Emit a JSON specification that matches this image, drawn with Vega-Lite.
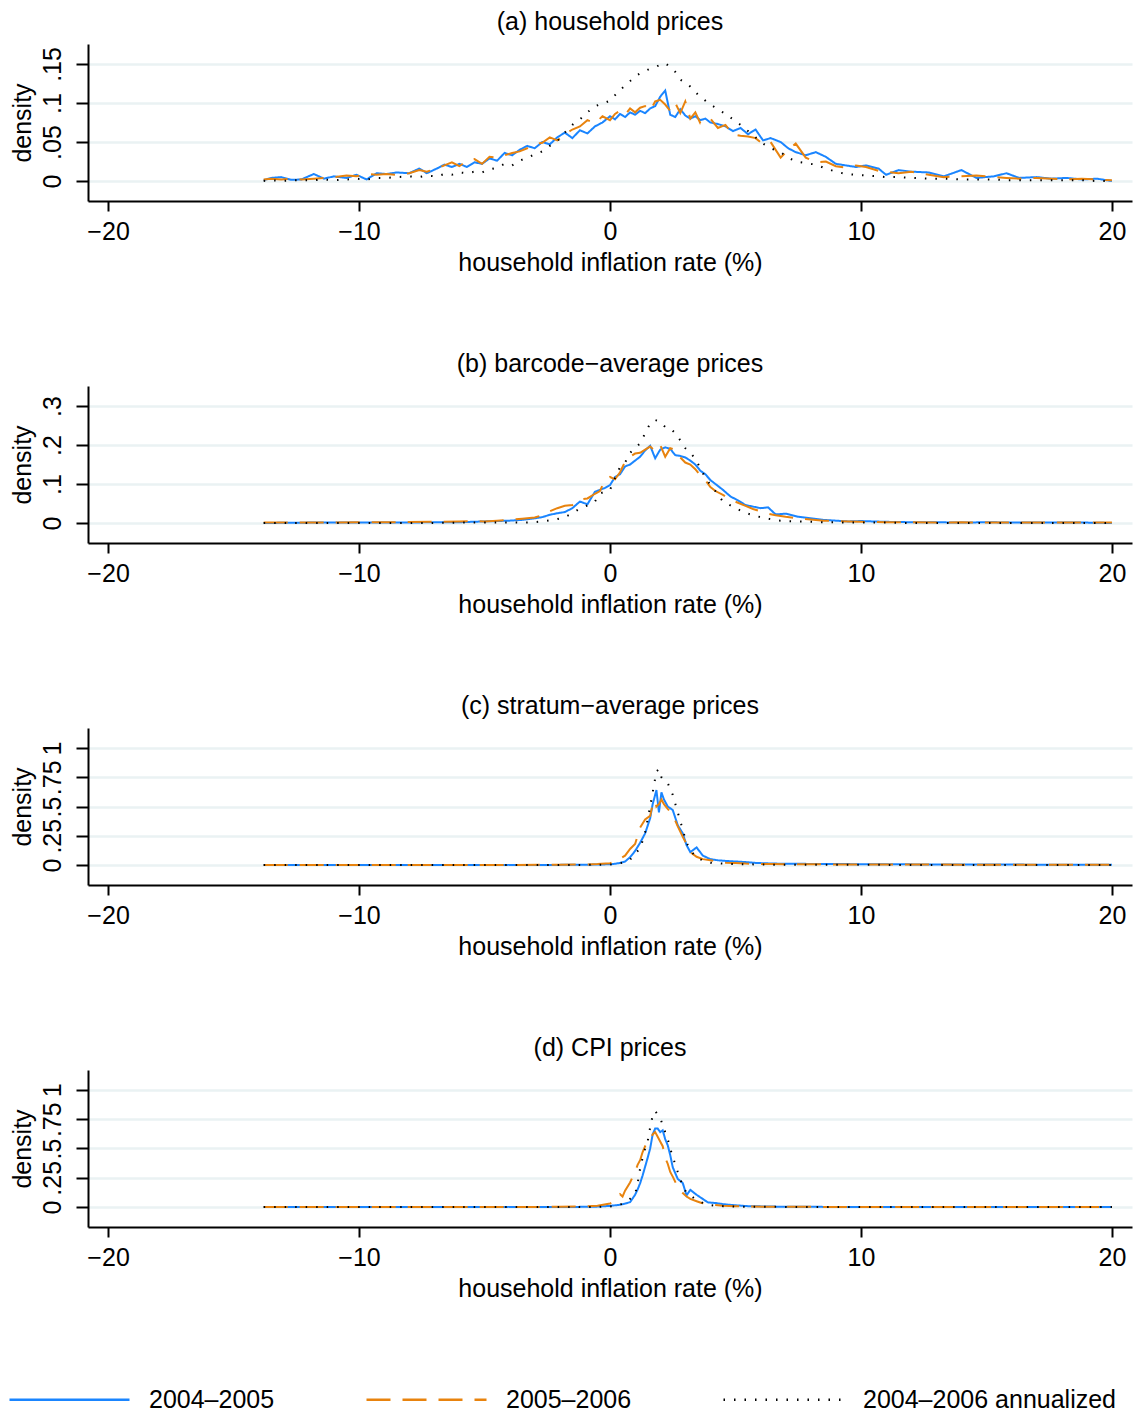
{
"$schema": "https://vega.github.io/schema/vega-lite/v6.json",
"background": "white",
"padding": {"left": 8, "top": 10, "right": 4, "bottom": 4},
"config": {
  "font": "Liberation Sans",
  "view": {"stroke": null},
  "axis": {"labelFont": "Liberation Sans", "titleFont": "Liberation Sans", "labelFontSize": 25, "titleFontSize": 25, "titleFontWeight": "normal", "labelColor": "black", "titleColor": "black", "domainColor": "black", "tickColor": "black", "domainWidth": 2, "tickWidth": 2},
  "title": {"font": "Liberation Sans", "fontSize": 25, "fontWeight": "normal", "offset": 9, "color": "black"},
  "legend": {"orient": "none", "legendX": -80, "legendY": 1294, "direction": "horizontal", "symbolType": "stroke", "symbolSize": 14400, "symbolStrokeWidth": 2.5, "labelFont": "Liberation Sans", "labelFontSize": 25, "labelColor": "black", "labelOffset": 18, "columnPadding": 86, "padding": 0, "labelLimit": 400}
},
"datasets": {"d": [
{"p":"a","x":-13.8,"b":0.001,"o":0.002,"k":0},
{"p":"a","x":-13.5,"b":0.004,"o":0.003,"k":0.001},
{"p":"a","x":-13.1,"b":0.005,"o":0.002,"k":0},
{"p":"a","x":-12.7,"b":0.0015,"o":0.003,"k":0.001},
{"p":"a","x":-12.3,"b":0.002,"o":0.002,"k":0.001},
{"p":"a","x":-11.8,"b":0.009,"o":0.003,"k":0.001},
{"p":"a","x":-11.4,"b":0.003,"o":0.004,"k":0.002},
{"p":"a","x":-11.0,"b":0.006,"o":0.005,"k":0.001},
{"p":"a","x":-10.5,"b":0.004,"o":0.007,"k":0.002},
{"p":"a","x":-10.1,"b":0.008,"o":0.006,"k":0.003},
{"p":"a","x":-9.7,"b":0.002,"o":0.009,"k":0.002},
{"p":"a","x":-9.3,"b":0.010,"o":0.008,"k":0.004},
{"p":"a","x":-8.9,"b":0.009,"o":0.009,"k":0.004},
{"p":"a","x":-8.5,"b":0.011,"o":0.008,"k":0.005},
{"p":"a","x":-8.0,"b":0.010,"o":0.010,"k":0.006},
{"p":"a","x":-7.6,"b":0.016,"o":0.014,"k":0.005},
{"p":"a","x":-7.3,"b":0.010,"o":0.012,"k":0.007},
{"p":"a","x":-6.9,"b":0.016,"o":0.016,"k":0.006},
{"p":"a","x":-6.6,"b":0.021,"o":0.020,"k":0.009},
{"p":"a","x":-6.3,"b":0.018,"o":0.024,"k":0.008},
{"p":"a","x":-6.0,"b":0.022,"o":0.019,"k":0.011},
{"p":"a","x":-5.7,"b":0.018,"o":0.026,"k":0.010},
{"p":"a","x":-5.4,"b":0.024,"o":0.028,"k":0.012},
{"p":"a","x":-5.1,"b":0.022,"o":0.022,"k":0.011},
{"p":"a","x":-4.8,"b":0.029,"o":0.031,"k":0.015},
{"p":"a","x":-4.5,"b":0.026,"o":0.030,"k":0.017},
{"p":"a","x":-4.2,"b":0.036,"o":0.033,"k":0.022},
{"p":"a","x":-3.9,"b":0.033,"o":0.036,"k":0.020},
{"p":"a","x":-3.6,"b":0.040,"o":0.038,"k":0.026},
{"p":"a","x":-3.3,"b":0.045,"o":0.042,"k":0.030},
{"p":"a","x":-3.0,"b":0.042,"o":0.047,"k":0.034},
{"p":"a","x":-2.7,"b":0.050,"o":0.049,"k":0.038},
{"p":"a","x":-2.4,"b":0.047,"o":0.056,"k":0.045},
{"p":"a","x":-2.1,"b":0.056,"o":0.052,"k":0.051},
{"p":"a","x":-1.8,"b":0.062,"o":0.060,"k":0.062},
{"p":"a","x":-1.5,"b":0.055,"o":0.066,"k":0.072},
{"p":"a","x":-1.2,"b":0.065,"o":0.070,"k":0.079},
{"p":"a","x":-0.9,"b":0.061,"o":0.078,"k":0.088},
{"p":"a","x":-0.6,"b":0.070,"o":0.074,"k":0.096},
{"p":"a","x":-0.3,"b":0.075,"o":0.083,"k":0.099},
{"p":"a","x":0.0,"b":0.083,"o":0.078,"k":0.103},
{"p":"a","x":0.2,"b":0.079,"o":0.086,"k":0.110},
{"p":"a","x":0.4,"b":0.086,"o":0.090,"k":0.117},
{"p":"a","x":0.6,"b":0.082,"o":0.085,"k":0.122},
{"p":"a","x":0.8,"b":0.088,"o":0.093,"k":0.128},
{"p":"a","x":1.0,"b":0.085,"o":0.088,"k":0.134},
{"p":"a","x":1.2,"b":0.090,"o":0.094,"k":0.138},
{"p":"a","x":1.4,"b":0.087,"o":0.096,"k":0.141},
{"p":"a","x":1.6,"b":0.093,"o":0.090,"k":0.144},
{"p":"a","x":1.8,"b":0.096,"o":0.102,"k":0.146},
{"p":"a","x":2.0,"b":0.108,"o":0.104,"k":0.149},
{"p":"a","x":2.2,"b":0.116,"o":0.098,"k":0.151},
{"p":"a","x":2.4,"b":0.085,"o":0.090,"k":0.146},
{"p":"a","x":2.6,"b":0.082,"o":0.100,"k":0.140},
{"p":"a","x":2.8,"b":0.092,"o":0.087,"k":0.130},
{"p":"a","x":3.0,"b":0.084,"o":0.102,"k":0.126},
{"p":"a","x":3.2,"b":0.080,"o":0.080,"k":0.121},
{"p":"a","x":3.4,"b":0.083,"o":0.088,"k":0.114},
{"p":"a","x":3.6,"b":0.078,"o":0.074,"k":0.108},
{"p":"a","x":3.8,"b":0.080,"o":0.076,"k":0.103},
{"p":"a","x":4.0,"b":0.075,"o":0.080,"k":0.098},
{"p":"a","x":4.3,"b":0.073,"o":0.068,"k":0.092},
{"p":"a","x":4.6,"b":0.070,"o":0.072,"k":0.086},
{"p":"a","x":4.9,"b":0.064,"o":0.060,"k":0.079},
{"p":"a","x":5.2,"b":0.068,"o":0.058,"k":0.072},
{"p":"a","x":5.5,"b":0.060,"o":0.057,"k":0.064},
{"p":"a","x":5.8,"b":0.066,"o":0.055,"k":0.056},
{"p":"a","x":6.1,"b":0.052,"o":0.047,"k":0.048},
{"p":"a","x":6.4,"b":0.055,"o":0.050,"k":0.042},
{"p":"a","x":6.8,"b":0.050,"o":0.030,"k":0.037},
{"p":"a","x":7.1,"b":0.042,"o":0.040,"k":0.030},
{"p":"a","x":7.4,"b":0.037,"o":0.048,"k":0.025},
{"p":"a","x":7.8,"b":0.033,"o":0.030,"k":0.023},
{"p":"a","x":8.2,"b":0.037,"o":0.024,"k":0.021},
{"p":"a","x":8.6,"b":0.031,"o":0.025,"k":0.016},
{"p":"a","x":9.0,"b":0.022,"o":0.019,"k":0.012},
{"p":"a","x":9.4,"b":0.020,"o":0.017,"k":0.009},
{"p":"a","x":9.8,"b":0.018,"o":0.020,"k":0.008},
{"p":"a","x":10.2,"b":0.020,"o":0.018,"k":0.007},
{"p":"a","x":10.7,"b":0.016,"o":0.013,"k":0.006},
{"p":"a","x":11.0,"b":0.008,"o":0.012,"k":0.005},
{"p":"a","x":11.5,"b":0.014,"o":0.010,"k":0.005},
{"p":"a","x":12.0,"b":0.012,"o":0.012,"k":0.004},
{"p":"a","x":12.7,"b":0.011,"o":0.008,"k":0.003},
{"p":"a","x":13.3,"b":0.006,"o":0.005,"k":0.003},
{"p":"a","x":14.0,"b":0.014,"o":0.006,"k":0.002},
{"p":"a","x":14.6,"b":0.004,"o":0.007,"k":0.002},
{"p":"a","x":15.3,"b":0.006,"o":0.005,"k":0.002},
{"p":"a","x":15.8,"b":0.010,"o":0.004,"k":0.001},
{"p":"a","x":16.3,"b":0.004,"o":0.003,"k":0.001},
{"p":"a","x":17.0,"b":0.005,"o":0.004,"k":0.001},
{"p":"a","x":17.6,"b":0.003,"o":0.003,"k":0.001},
{"p":"a","x":18.2,"b":0.004,"o":0.002,"k":0.001},
{"p":"a","x":18.8,"b":0.002,"o":0.003,"k":0.001},
{"p":"a","x":19.4,"b":0.003,"o":0.002,"k":0},
{"p":"a","x":20.0,"b":0,"o":0.001,"k":0},

{"p":"b","x":-13.8,"b":0,"o":0.001,"k":0},
{"p":"b","x":-12,"b":0.001,"o":0.001,"k":0},
{"p":"b","x":-10,"b":0.001,"o":0.002,"k":0},
{"p":"b","x":-8.4,"b":0.001,"o":0.002,"k":0},
{"p":"b","x":-7,"b":0.002,"o":0.003,"k":0},
{"p":"b","x":-6,"b":0.002,"o":0.004,"k":0.001},
{"p":"b","x":-5.5,"b":0.003,"o":0.005,"k":0.001},
{"p":"b","x":-5.0,"b":0.004,"o":0.004,"k":0.001},
{"p":"b","x":-4.5,"b":0.005,"o":0.006,"k":0.001},
{"p":"b","x":-4.0,"b":0.006,"o":0.008,"k":0.001},
{"p":"b","x":-3.5,"b":0.008,"o":0.011,"k":0.001},
{"p":"b","x":-3.0,"b":0.012,"o":0.014,"k":0.002},
{"p":"b","x":-2.7,"b":0.015,"o":0.020,"k":0.004},
{"p":"b","x":-2.4,"b":0.021,"o":0.030,"k":0.007},
{"p":"b","x":-2.1,"b":0.025,"o":0.038,"k":0.010},
{"p":"b","x":-1.8,"b":0.028,"o":0.044,"k":0.015},
{"p":"b","x":-1.5,"b":0.038,"o":0.046,"k":0.025},
{"p":"b","x":-1.2,"b":0.055,"o":0.060,"k":0.037},
{"p":"b","x":-0.9,"b":0.048,"o":0.063,"k":0.045},
{"p":"b","x":-0.6,"b":0.080,"o":0.075,"k":0.055},
{"p":"b","x":-0.4,"b":0.085,"o":0.082,"k":0.076},
{"p":"b","x":-0.2,"b":0.090,"o":0.110,"k":0.080},
{"p":"b","x":0.0,"b":0.097,"o":0.118,"k":0.085},
{"p":"b","x":0.2,"b":0.118,"o":0.112,"k":0.115},
{"p":"b","x":0.4,"b":0.125,"o":0.130,"k":0.144},
{"p":"b","x":0.6,"b":0.145,"o":0.157,"k":0.155},
{"p":"b","x":0.8,"b":0.150,"o":0.170,"k":0.180},
{"p":"b","x":1.0,"b":0.160,"o":0.178,"k":0.192},
{"p":"b","x":1.2,"b":0.170,"o":0.180,"k":0.204},
{"p":"b","x":1.4,"b":0.186,"o":0.188,"k":0.230},
{"p":"b","x":1.6,"b":0.198,"o":0.196,"k":0.255},
{"p":"b","x":1.8,"b":0.166,"o":0.185,"k":0.264},
{"p":"b","x":2.0,"b":0.188,"o":0.200,"k":0.260},
{"p":"b","x":2.2,"b":0.194,"o":0.170,"k":0.246},
{"p":"b","x":2.4,"b":0.190,"o":0.192,"k":0.243},
{"p":"b","x":2.6,"b":0.174,"o":0.188,"k":0.230},
{"p":"b","x":2.8,"b":0.172,"o":0.168,"k":0.212},
{"p":"b","x":3.0,"b":0.168,"o":0.155,"k":0.192},
{"p":"b","x":3.2,"b":0.160,"o":0.150,"k":0.180},
{"p":"b","x":3.4,"b":0.150,"o":0.138,"k":0.165},
{"p":"b","x":3.6,"b":0.134,"o":0.122,"k":0.140},
{"p":"b","x":3.8,"b":0.125,"o":0.110,"k":0.116},
{"p":"b","x":4.0,"b":0.110,"o":0.092,"k":0.098},
{"p":"b","x":4.2,"b":0.100,"o":0.082,"k":0.082},
{"p":"b","x":4.5,"b":0.085,"o":0.072,"k":0.055},
{"p":"b","x":4.8,"b":0.068,"o":0.060,"k":0.045},
{"p":"b","x":5.1,"b":0.058,"o":0.052,"k":0.035},
{"p":"b","x":5.4,"b":0.046,"o":0.044,"k":0.026},
{"p":"b","x":5.7,"b":0.042,"o":0.036,"k":0.020},
{"p":"b","x":6.0,"b":0.038,"o":0.030,"k":0.015},
{"p":"b","x":6.3,"b":0.040,"o":0.024,"k":0.011},
{"p":"b","x":6.6,"b":0.022,"o":0.020,"k":0.007},
{"p":"b","x":7.0,"b":0.024,"o":0.016,"k":0.005},
{"p":"b","x":7.5,"b":0.016,"o":0.012,"k":0.004},
{"p":"b","x":8.0,"b":0.012,"o":0.009,"k":0.003},
{"p":"b","x":8.5,"b":0.008,"o":0.006,"k":0.002},
{"p":"b","x":9.0,"b":0.006,"o":0.005,"k":0.002},
{"p":"b","x":9.5,"b":0.004,"o":0.004,"k":0.001},
{"p":"b","x":10.0,"b":0.005,"o":0.003,"k":0.001},
{"p":"b","x":11,"b":0.003,"o":0.002,"k":0.001},
{"p":"b","x":12,"b":0.002,"o":0.002,"k":0},
{"p":"b","x":13,"b":0.002,"o":0.001,"k":0},
{"p":"b","x":14,"b":0.001,"o":0.002,"k":0},
{"p":"b","x":15,"b":0.002,"o":0.001,"k":0},
{"p":"b","x":16,"b":0.001,"o":0.001,"k":0},
{"p":"b","x":17,"b":0.001,"o":0.001,"k":0},
{"p":"b","x":18,"b":0.001,"o":0.001,"k":0},
{"p":"b","x":19,"b":0.001,"o":0.001,"k":0},
{"p":"b","x":20,"b":0,"o":0.001,"k":0},

{"p":"c","x":-13.8,"b":0,"o":0,"k":0},
{"p":"c","x":-10,"b":0,"o":0,"k":0},
{"p":"c","x":-5,"b":0,"o":0,"k":0},
{"p":"c","x":-2,"b":0.001,"o":0.002,"k":0},
{"p":"c","x":-1,"b":0.002,"o":0.004,"k":0.001},
{"p":"c","x":-0.5,"b":0.004,"o":0.008,"k":0.002},
{"p":"c","x":0.0,"b":0.006,"o":0.015,"k":0.004},
{"p":"c","x":0.2,"b":0.010,"o":0.030,"k":0.008},
{"p":"c","x":0.4,"b":0.018,"o":0.055,"k":0.015},
{"p":"c","x":0.6,"b":0.030,"o":0.080,"k":0.025},
{"p":"c","x":0.8,"b":0.066,"o":0.137,"k":0.045},
{"p":"c","x":1.0,"b":0.120,"o":0.180,"k":0.100},
{"p":"c","x":1.2,"b":0.190,"o":0.320,"k":0.137},
{"p":"c","x":1.4,"b":0.270,"o":0.390,"k":0.280},
{"p":"c","x":1.6,"b":0.400,"o":0.420,"k":0.500},
{"p":"c","x":1.7,"b":0.520,"o":0.520,"k":0.620},
{"p":"c","x":1.8,"b":0.600,"o":0.550,"k":0.740},
{"p":"c","x":1.85,"b":0.640,"o":0.500,"k":0.800},
{"p":"c","x":1.95,"b":0.450,"o":0.520,"k":0.820},
{"p":"c","x":2.05,"b":0.620,"o":0.560,"k":0.750},
{"p":"c","x":2.15,"b":0.560,"o":0.520,"k":0.720},
{"p":"c","x":2.3,"b":0.500,"o":0.480,"k":0.700},
{"p":"c","x":2.5,"b":0.470,"o":0.430,"k":0.600},
{"p":"c","x":2.7,"b":0.340,"o":0.330,"k":0.450},
{"p":"c","x":2.9,"b":0.270,"o":0.240,"k":0.300},
{"p":"c","x":3.05,"b":0.170,"o":0.180,"k":0.190},
{"p":"c","x":3.2,"b":0.110,"o":0.110,"k":0.130},
{"p":"c","x":3.45,"b":0.150,"o":0.070,"k":0.060},
{"p":"c","x":3.7,"b":0.080,"o":0.050,"k":0.040},
{"p":"c","x":4.0,"b":0.050,"o":0.040,"k":0.020},
{"p":"c","x":4.3,"b":0.040,"o":0.030,"k":0.015},
{"p":"c","x":4.6,"b":0.035,"o":0.020,"k":0.010},
{"p":"c","x":5.0,"b":0.030,"o":0.018,"k":0.008},
{"p":"c","x":5.4,"b":0.025,"o":0.012,"k":0.006},
{"p":"c","x":5.8,"b":0.018,"o":0.010,"k":0.005},
{"p":"c","x":6.5,"b":0.012,"o":0.008,"k":0.003},
{"p":"c","x":7.5,"b":0.010,"o":0.006,"k":0.002},
{"p":"c","x":9,"b":0.008,"o":0.005,"k":0.002},
{"p":"c","x":11,"b":0.006,"o":0.004,"k":0.001},
{"p":"c","x":14,"b":0.004,"o":0.003,"k":0.001},
{"p":"c","x":17,"b":0.003,"o":0.002,"k":0.001},
{"p":"c","x":20,"b":0.002,"o":0.001,"k":0},

{"p":"d","x":-13.8,"b":0,"o":0,"k":0},
{"p":"d","x":-5,"b":0,"o":0,"k":0},
{"p":"d","x":-2,"b":0.001,"o":0.002,"k":0},
{"p":"d","x":-1,"b":0.002,"o":0.006,"k":0.001},
{"p":"d","x":-0.5,"b":0.004,"o":0.012,"k":0.002},
{"p":"d","x":0.0,"b":0.010,"o":0.030,"k":0.005},
{"p":"d","x":0.2,"b":0.015,"o":0.060,"k":0.010},
{"p":"d","x":0.4,"b":0.020,"o":0.110,"k":0.020},
{"p":"d","x":0.5,"b":0.025,"o":0.090,"k":0.030},
{"p":"d","x":0.6,"b":0.030,"o":0.140,"k":0.045},
{"p":"d","x":0.8,"b":0.042,"o":0.210,"k":0.070},
{"p":"d","x":1.0,"b":0.105,"o":0.300,"k":0.110},
{"p":"d","x":1.1,"b":0.150,"o":0.360,"k":0.200},
{"p":"d","x":1.2,"b":0.203,"o":0.400,"k":0.330},
{"p":"d","x":1.3,"b":0.270,"o":0.470,"k":0.420},
{"p":"d","x":1.4,"b":0.345,"o":0.520,"k":0.500},
{"p":"d","x":1.5,"b":0.420,"o":0.560,"k":0.560},
{"p":"d","x":1.6,"b":0.500,"o":0.570,"k":0.680},
{"p":"d","x":1.7,"b":0.620,"o":0.620,"k":0.780},
{"p":"d","x":1.8,"b":0.670,"o":0.640,"k":0.820},
{"p":"d","x":1.9,"b":0.670,"o":0.600,"k":0.790},
{"p":"d","x":2.0,"b":0.640,"o":0.560,"k":0.760},
{"p":"d","x":2.1,"b":0.655,"o":0.520,"k":0.700},
{"p":"d","x":2.2,"b":0.580,"o":0.420,"k":0.640},
{"p":"d","x":2.3,"b":0.528,"o":0.370,"k":0.580},
{"p":"d","x":2.4,"b":0.444,"o":0.300,"k":0.500},
{"p":"d","x":2.5,"b":0.340,"o":0.260,"k":0.430},
{"p":"d","x":2.7,"b":0.240,"o":0.170,"k":0.300},
{"p":"d","x":2.9,"b":0.205,"o":0.120,"k":0.180},
{"p":"d","x":3.05,"b":0.100,"o":0.090,"k":0.120},
{"p":"d","x":3.2,"b":0.147,"o":0.070,"k":0.100},
{"p":"d","x":3.45,"b":0.105,"o":0.050,"k":0.060},
{"p":"d","x":3.65,"b":0.076,"o":0.035,"k":0.040},
{"p":"d","x":3.9,"b":0.040,"o":0.025,"k":0.020},
{"p":"d","x":4.2,"b":0.035,"o":0.018,"k":0.012},
{"p":"d","x":4.5,"b":0.025,"o":0.012,"k":0.008},
{"p":"d","x":5.0,"b":0.015,"o":0.008,"k":0.005},
{"p":"d","x":5.5,"b":0.008,"o":0.005,"k":0.003},
{"p":"d","x":6.5,"b":0.004,"o":0.003,"k":0.002},
{"p":"d","x":8,"b":0.002,"o":0.002,"k":0.001},
{"p":"d","x":10,"b":0.001,"o":0.001,"k":0},
{"p":"d","x":14,"b":0.001,"o":0.001,"k":0},
{"p":"d","x":20,"b":0,"o":0.001,"k":0}
]},
"spacing": 185,
"bounds": "flush",
"resolve": {"scale": {"x": "shared", "y": "independent", "color": "shared", "strokeDash": "shared"}},
"vconcat": [
{
  "title": "(a) household prices",
  "width": 1044, "height": 157,
  "data": {"name": "d"},
  "transform": [{"filter": "datum.p == 'a'"}, {"fold": ["b", "o", "k"], "as": ["s", "y"]}],
  "mark": {"type": "line", "strokeWidth": 2, "strokeCap": "butt"},
  "encoding": {
    "x": {"field": "x", "type": "quantitative", "scale": {"domain": [-20.8, 20.8], "nice": false, "zero": false}, "axis": {"values": [-20, -10, 0, 10, 20], "title": "household inflation rate (%)", "grid": false, "tickSize": 10, "labelPadding": 8, "titlePadding": 6}},
    "y": {"field": "y", "type": "quantitative", "scale": {"domain": [-0.0256, 0.1756], "nice": false, "zero": false}, "axis": {"values": [0, 0.05, 0.1, 0.15], "title": "density", "grid": true, "gridColor": "#eaf2f3", "gridWidth": 2.5, "labelAngle": 270, "labelAlign": "center", "labelBaseline": "bottom", "tickSize": 12, "labelPadding": 11, "titlePadding": 5, "labelOverlap": false, "labelExpr": "datum.value == 0 ? '0' : replace('' + datum.value, '0.', '.')"}},
    "color": {"field": "s", "type": "nominal", "scale": {"domain": ["b", "o", "k"], "range": ["#1a85ff", "#e8830e", "#000000"]}, "legend": {"title": null, "labelExpr": "datum.label == 'b' ? '2004–2005' : datum.label == 'o' ? '2005–2006' : '2004–2006 annualized'"}},
    "strokeDash": {"field": "s", "type": "nominal", "scale": {"domain": ["b", "o", "k"], "range": [[1, 0], [24, 12], [1.5, 9]]}, "legend": {"title": null, "labelExpr": "datum.label == 'b' ? '2004–2005' : datum.label == 'o' ? '2005–2006' : '2004–2006 annualized'"}}
  }
},
{
  "title": "(b) barcode−average prices",
  "width": 1044, "height": 157,
  "data": {"name": "d"},
  "transform": [{"filter": "datum.p == 'b'"}, {"fold": ["b", "o", "k"], "as": ["s", "y"]}],
  "mark": {"type": "line", "strokeWidth": 2, "strokeCap": "butt"},
  "encoding": {
    "x": {"field": "x", "type": "quantitative", "scale": {"domain": [-20.8, 20.8], "nice": false, "zero": false}, "axis": {"values": [-20, -10, 0, 10, 20], "title": "household inflation rate (%)", "grid": false, "tickSize": 10, "labelPadding": 8, "titlePadding": 6}},
    "y": {"field": "y", "type": "quantitative", "scale": {"domain": [-0.0513, 0.3513], "nice": false, "zero": false}, "axis": {"values": [0, 0.1, 0.2, 0.3], "title": "density", "grid": true, "gridColor": "#eaf2f3", "gridWidth": 2.5, "labelAngle": 270, "labelAlign": "center", "labelBaseline": "bottom", "tickSize": 12, "labelPadding": 11, "titlePadding": 5, "labelOverlap": false, "labelExpr": "datum.value == 0 ? '0' : replace('' + datum.value, '0.', '.')"}},
    "color": {"field": "s", "type": "nominal", "legend": {"title": null, "labelExpr": "datum.label == 'b' ? '2004–2005' : datum.label == 'o' ? '2005–2006' : '2004–2006 annualized'"}},
    "strokeDash": {"field": "s", "type": "nominal", "legend": {"title": null, "labelExpr": "datum.label == 'b' ? '2004–2005' : datum.label == 'o' ? '2005–2006' : '2004–2006 annualized'"}}
  }
},
{
  "title": "(c) stratum−average prices",
  "width": 1044, "height": 157,
  "data": {"name": "d"},
  "transform": [{"filter": "datum.p == 'c'"}, {"fold": ["b", "o", "k"], "as": ["s", "y"]}],
  "mark": {"type": "line", "strokeWidth": 2, "strokeCap": "butt"},
  "encoding": {
    "x": {"field": "x", "type": "quantitative", "scale": {"domain": [-20.8, 20.8], "nice": false, "zero": false}, "axis": {"values": [-20, -10, 0, 10, 20], "title": "household inflation rate (%)", "grid": false, "tickSize": 10, "labelPadding": 8, "titlePadding": 6}},
    "y": {"field": "y", "type": "quantitative", "scale": {"domain": [-0.171, 1.171], "nice": false, "zero": false}, "axis": {"values": [0, 0.25, 0.5, 0.75, 1], "title": "density", "grid": true, "gridColor": "#eaf2f3", "gridWidth": 2.5, "labelAngle": 270, "labelAlign": "center", "labelBaseline": "bottom", "tickSize": 12, "labelPadding": 11, "titlePadding": 5, "labelOverlap": false, "labelExpr": "datum.value == 0 ? '0' : replace('' + datum.value, '0.', '.')"}},
    "color": {"field": "s", "type": "nominal", "legend": {"title": null, "labelExpr": "datum.label == 'b' ? '2004–2005' : datum.label == 'o' ? '2005–2006' : '2004–2006 annualized'"}},
    "strokeDash": {"field": "s", "type": "nominal", "legend": {"title": null, "labelExpr": "datum.label == 'b' ? '2004–2005' : datum.label == 'o' ? '2005–2006' : '2004–2006 annualized'"}}
  }
},
{
  "title": "(d) CPI prices",
  "width": 1044, "height": 157,
  "data": {"name": "d"},
  "transform": [{"filter": "datum.p == 'd'"}, {"fold": ["b", "o", "k"], "as": ["s", "y"]}],
  "mark": {"type": "line", "strokeWidth": 2, "strokeCap": "butt"},
  "encoding": {
    "x": {"field": "x", "type": "quantitative", "scale": {"domain": [-20.8, 20.8], "nice": false, "zero": false}, "axis": {"values": [-20, -10, 0, 10, 20], "title": "household inflation rate (%)", "grid": false, "tickSize": 10, "labelPadding": 8, "titlePadding": 6}},
    "y": {"field": "y", "type": "quantitative", "scale": {"domain": [-0.17, 1.17], "nice": false, "zero": false}, "axis": {"values": [0, 0.25, 0.5, 0.75, 1], "title": "density", "grid": true, "gridColor": "#eaf2f3", "gridWidth": 2.5, "labelAngle": 270, "labelAlign": "center", "labelBaseline": "bottom", "tickSize": 12, "labelPadding": 11, "titlePadding": 5, "labelOverlap": false, "labelExpr": "datum.value == 0 ? '0' : replace('' + datum.value, '0.', '.')"}},
    "color": {"field": "s", "type": "nominal", "legend": {"title": null, "labelExpr": "datum.label == 'b' ? '2004–2005' : datum.label == 'o' ? '2005–2006' : '2004–2006 annualized'"}},
    "strokeDash": {"field": "s", "type": "nominal", "legend": {"title": null, "labelExpr": "datum.label == 'b' ? '2004–2005' : datum.label == 'o' ? '2005–2006' : '2004–2006 annualized'"}}
  }
}
]
}
